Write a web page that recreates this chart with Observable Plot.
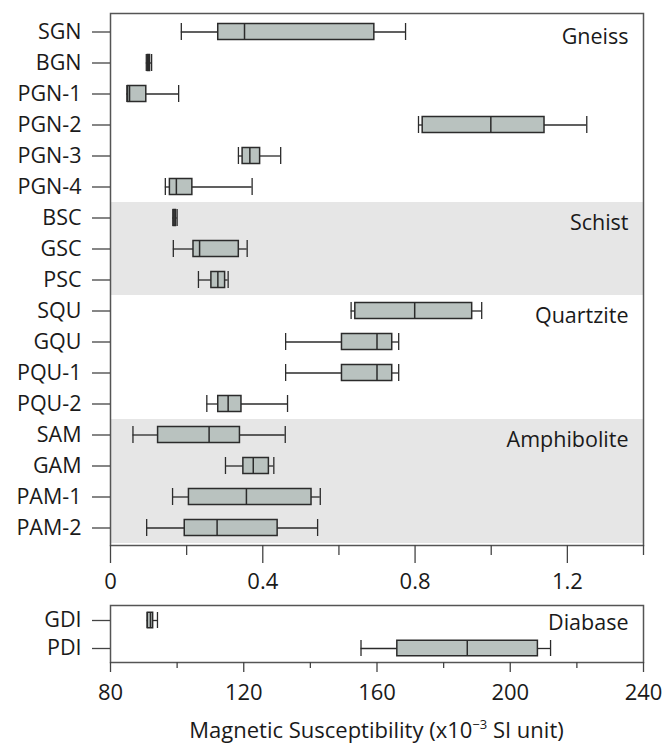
<!DOCTYPE html>
<html>
<head>
<meta charset="utf-8">
<script src="https://cdn.jsdelivr.net/npm/d3@7"></script>
<script src="https://cdn.jsdelivr.net/npm/@observablehq/plot@0.6"></script>
<style>
  html, body { margin: 0; padding: 0; background: #fff; }
  #wrap { position: relative; width: 662px; height: 751px; font-family: "Open Sans", sans-serif; }
  #top { position: absolute; left: 0; top: 0; }
  #bottom { position: absolute; left: 0; top: 600px; }
  #title { position: absolute; left: 100px; width: 553px; top: 716px; text-align: center; font-size: 22px; line-height: 26px; color: #1a1a1a; white-space: nowrap; }
  #title sup { font-size: 13px; line-height: 0; position: relative; top: -1px; }
</style>
</head>
<body>
<div id="wrap">
  <div id="top"></div>
  <div id="bottom"></div>
  <div id="title">Magnetic Susceptibility (x10<sup>−3</sup> SI unit)</div>
</div>
<script>
// ---- Data ----
const names = ["SGN","BGN","PGN-1","PGN-2","PGN-3","PGN-4","BSC","GSC","PSC","SQU","GQU","PQU-1","PQU-2","SAM","GAM","PAM-1","PAM-2"];
const mins    = [0.186, 0.094, 0.043, 0.809, 0.336, 0.144, 0.164, 0.165, 0.231, 0.632, 0.460, 0.460, 0.253, 0.059, 0.302, 0.163, 0.095];
const q1s     = [0.283, 0.098, 0.046, 0.820, 0.347, 0.156, 0.166, 0.218, 0.265, 0.643, 0.608, 0.608, 0.283, 0.125, 0.349, 0.206, 0.195];
const medians = [0.352, 0.100, 0.050, 0.999, 0.366, 0.173, 0.169, 0.234, 0.282, 0.799, 0.700, 0.700, 0.309, 0.259, 0.375, 0.357, 0.280];
const q3s     = [0.693, 0.104, 0.094, 1.140, 0.393, 0.215, 0.172, 0.337, 0.301, 0.950, 0.740, 0.740, 0.344, 0.340, 0.416, 0.528, 0.439];
const maxs    = [0.775, 0.108, 0.179, 1.251, 0.447, 0.372, 0.175, 0.359, 0.309, 0.975, 0.757, 0.757, 0.465, 0.459, 0.429, 0.551, 0.544];

const shadedRows = ["BSC","GSC","PSC","SAM","GAM","PAM-1","PAM-2"];
const groupLabels = ["Gneiss","Schist","Quartzite","Amphibolite"];
const groupRows   = ["SGN","BSC","SQU","SAM"];

const dNames   = ["GDI","PDI"];
const dMins    = [91.0, 155.2];
const dQ1s     = [91.2, 166.1];
const dMedians = [92.0, 187.1];
const dQ3s     = [92.8, 208.3];
const dMaxs    = [94.1, 212.1];
const dGroupLabels = ["Diabase"];
const dGroupRows   = ["GDI"];

const topMajorTicks = [0, 0.4, 0.8, 1.2];
const topMinorTicks = [0.2, 0.6, 1.0, 1.4];
const topDomain = [0, 1.4];
const botMajorTicks = [80, 120, 160, 200, 240];
const botMinorTicks = [100, 140, 180, 220];
const botDomain = [80, 240];

// ---- Build tables ----
const topData = names.map((n, i) => ({name: n, min: mins[i], q1: q1s[i], median: medians[i], q3: q3s[i], max: maxs[i]}));
const botData = dNames.map((n, i) => ({name: n, min: dMins[i], q1: dQ1s[i], median: dMedians[i], q3: dQ3s[i], max: dMaxs[i]}));
const topGroups = groupLabels.map((g, i) => ({label: g, row: groupRows[i]}));
const botGroups = dGroupLabels.map((g, i) => ({label: g, row: dGroupRows[i]}));

const boxFill = "#b9c2bf";
const boxStroke = "#2b2b2b";
const frameStroke = "#555";

function boxMarks(data, boxInset, capInset) {
  return [
    Plot.ruleY(data, {y: "name", x1: "min", x2: "q1", stroke: boxStroke, strokeWidth: 1.3}),
    Plot.ruleY(data, {y: "name", x1: "q3", x2: "max", stroke: boxStroke, strokeWidth: 1.3}),
    Plot.tickX(data, {x: "min", y: "name", stroke: boxStroke, strokeWidth: 1.3, insetTop: capInset, insetBottom: capInset}),
    Plot.tickX(data, {x: "max", y: "name", stroke: boxStroke, strokeWidth: 1.3, insetTop: capInset, insetBottom: capInset}),
    Plot.barX(data, {x1: "q1", x2: "q3", y: "name", fill: boxFill, stroke: boxStroke, strokeWidth: 1.5, insetTop: boxInset, insetBottom: boxInset}),
    Plot.tickX(data, {x: "median", y: "name", stroke: boxStroke, strokeWidth: 1.5, insetTop: boxInset, insetBottom: boxInset})
  ];
}

const fmt = d => String(d);

const topPlot = Plot.plot({
  width: 662,
  height: 600,
  marginLeft: 110,
  marginRight: 19,
  marginTop: 13,
  marginBottom: 55,
  style: {fontFamily: "'Open Sans', sans-serif", fontSize: "21px", color: "#1a1a1a", background: "transparent"},
  x: {domain: topDomain, axis: null},
  y: {domain: names, padding: 0, axis: null},
  marks: [
    Plot.barX(shadedRows, {y: d => d, x1: topDomain[0], x2: topDomain[1], fill: "#e6e6e6"}),
    ...boxMarks(topData, 7.5, 7),
    Plot.frame({stroke: frameStroke, strokeWidth: 1.5}),
    Plot.axisY({tickSize: 18, tickPadding: 11, label: null, fontSize: 21.5, stroke: "#444", strokeWidth: 1.3}),
    Plot.axisX({ticks: topMajorTicks, tickSize: 18, tickPadding: 10, tickFormat: fmt, label: null, fontSize: 22, stroke: "#444", strokeWidth: 1.3}),
    Plot.axisX({ticks: topMinorTicks, tickSize: 10, tickFormat: () => "", label: null, stroke: "#444", strokeWidth: 1.3}),
    Plot.text(topGroups, {y: "row", text: "label", frameAnchor: "right", textAnchor: "end", dx: -15, dy: 5, fontSize: 21.5, fill: "#1a1a1a"})
  ]
});
document.getElementById("top").appendChild(topPlot);

const botPlot = Plot.plot({
  width: 662,
  height: 105,
  marginLeft: 110,
  marginRight: 19,
  marginTop: 5,
  marginBottom: 43,
  style: {fontFamily: "'Open Sans', sans-serif", fontSize: "21px", color: "#1a1a1a", background: "transparent"},
  x: {domain: botDomain, axis: null},
  y: {domain: dNames, padding: 0, axis: null},
  marks: [
    ...boxMarks(botData, 6.25, 6),
    Plot.frame({stroke: frameStroke, strokeWidth: 1.5}),
    Plot.axisY({tickSize: 18, tickPadding: 11, label: null, fontSize: 21.5, stroke: "#444", strokeWidth: 1.3}),
    Plot.axisX({ticks: botMajorTicks, tickSize: 10, tickPadding: 12, tickFormat: fmt, label: null, fontSize: 22, stroke: "#444", strokeWidth: 1.3}),
    Plot.axisX({ticks: botMinorTicks, tickSize: 6, tickFormat: () => "", label: null, stroke: "#444", strokeWidth: 1.3}),
    Plot.text(botGroups, {y: "row", text: "label", frameAnchor: "right", textAnchor: "end", dx: -15, dy: 3, fontSize: 21.5, fill: "#1a1a1a"})
  ]
});
document.getElementById("bottom").appendChild(botPlot);
</script>
</body>
</html>
